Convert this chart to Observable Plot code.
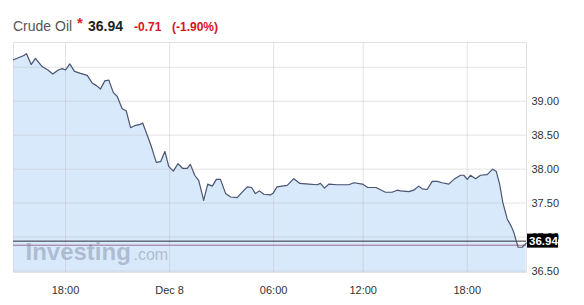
<!DOCTYPE html>
<html>
<head>
<meta charset="utf-8">
<script src="https://cdn.jsdelivr.net/npm/d3@7"></script>
<script src="https://cdn.jsdelivr.net/npm/@observablehq/plot@0.6"></script>
<style>
  body { margin: 0; background: #fff; font-family: Arial, "Liberation Sans", sans-serif; }
  #wrap { position: relative; width: 584px; height: 305px; overflow: hidden; }
  #title span { position: absolute; top: 18px; line-height: 17px; white-space: nowrap; }
  #chart { position: absolute; left: 0; top: 0; }
</style>
</head>
<body>
<div id="wrap">
  <div id="chart"></div>
  <div id="title">
    <span style="left:13px;font-size:14px;color:#555;">Crude Oil</span>
    <span style="left:77px;top:14px;font-size:15px;font-weight:bold;color:#e0202a;">*</span>
    <span style="left:88px;font-size:14px;font-weight:bold;color:#222;">36.94</span>
    <span style="left:134px;top:19px;font-size:12px;font-weight:bold;color:#d8141e;">-0.71</span>
    <span style="left:172px;top:19px;font-size:12px;font-weight:bold;color:#d8141e;">(-1.90%)</span>
  </div>
</div>
<script>
// bar index (10-minute session bars) and price
const bars = [0, 3.4, 4.5, 6.1, 7.6, 9.9, 11.9, 13.6, 15.5, 16.9, 18.0, 19.5, 21.1, 23.2, 25.5, 27.2, 28.7, 30.1, 31.6, 33.0,
  34.5, 35.9, 37.6, 39.0, 40.5, 41.9, 43.9, 44.7, 47.4, 49.4, 50.9, 52.4, 53.7, 55.3, 56.9, 58.6, 60.1, 61.2, 62.7, 64.1,
  65.8, 67.2, 68.8, 70.2, 71.6, 73.4, 75.1, 77.4, 78.9, 80.9, 82.4, 83.7, 85.1, 86.6, 88.9, 89.9, 91.2, 94.7, 97.0, 99.1,
  102.2, 105.1, 106.2, 107.6, 109.1, 112.0, 116.0, 117.8, 120.7, 122.6, 125.4, 128.7, 131.0, 132.8, 133.9, 136.8, 138.5, 140.2, 141.4, 143.1,
  144.9, 146.6, 148.3, 150.6, 152.7, 154.7, 155.8, 157.0, 158.1, 159.9, 161.6, 163.9, 165.8, 167.0, 168.2, 169.3, 170.8, 172.3, 173.1, 173.9,
  174.6, 176.0, 177.4];
const prices = [39.61, 39.67, 39.70, 39.54, 39.63, 39.51, 39.46, 39.40, 39.46, 39.48, 39.46, 39.55, 39.44, 39.41, 39.38, 39.27, 39.23, 39.18, 39.30, 39.31,
  39.13, 39.07, 38.89, 38.86, 38.61, 38.64, 38.66, 38.68, 38.37, 38.10, 38.11, 38.26, 38.04, 37.97, 38.08, 38.01, 38.01, 38.07, 37.91, 37.83,
  37.54, 37.78, 37.75, 37.85, 37.85, 37.64, 37.59, 37.58, 37.65, 37.74, 37.73, 37.64, 37.68, 37.63, 37.62, 37.65, 37.74, 37.76, 37.86, 37.79,
  37.78, 37.77, 37.79, 37.72, 37.78, 37.77, 37.77, 37.80, 37.78, 37.73, 37.73, 37.66, 37.66, 37.69, 37.68, 37.67, 37.69, 37.75, 37.71, 37.70,
  37.82, 37.82, 37.80, 37.78, 37.86, 37.91, 37.91, 37.85, 37.91, 37.86, 37.91, 37.92, 38.00, 37.97, 37.78, 37.51, 37.27, 37.15, 37.07, 36.95,
  36.85, 36.85, 36.91];

const xTicks = [18, 54, 90, 121, 157];
const xTickLabels = ["18:00", "Dec 8", "06:00", "12:00", "18:00"];
const yTicks = [36.5, 37.0, 37.5, 38.0, 38.5, 39.0];
const yGrid = [36.5, 37.0, 37.5, 38.0, 38.5, 39.0, 39.5];
const lastPrice = 36.94;
const lowLine = 36.88;
const xDomain = [0, 177.5];
const yDomain = [36.478, 39.865];

const data = bars.map((b, i) => ({bar: b, price: prices[i]}));
const labelMap = new Map(xTicks.map((t, i) => [t, xTickLabels[i]]));

const chart = Plot.plot({
  width: 584,
  height: 305,
  marginTop: 42,
  marginBottom: 33,
  marginLeft: 13,
  marginRight: 58,
  style: {fontFamily: "Arial, 'Liberation Sans', sans-serif", fontSize: "11px", color: "#333", background: "transparent"},
  x: {domain: xDomain, label: null},
  y: {domain: yDomain, label: null},
  marks: [
    Plot.areaY(data, {x: "bar", y1: yDomain[0], y2: "price", fill: "#d9e9fc", curve: "linear"}),
    Plot.ruleY(yGrid, {stroke: "#b8b8b8", strokeOpacity: 0.4}),
    Plot.ruleX(xTicks, {stroke: "#b8b8b8", strokeOpacity: 0.4}),
    Plot.frame({stroke: "#d0d0d0", strokeOpacity: 0.6}),
    Plot.text(["Investing"], {frameAnchor: "bottom-left", dx: 12, dy: -13, text: d => d, fontSize: 24, fontWeight: "bold", fill: "#76839b", fillOpacity: 0.45, textAnchor: "start", lineAnchor: "bottom"}),
    Plot.text([".com"], {frameAnchor: "bottom-left", dx: 120, dy: -13, text: d => d, fontSize: 16, fill: "#76839b", fillOpacity: 0.45, textAnchor: "start", lineAnchor: "bottom"}),
    Plot.ruleY([lowLine], {stroke: "#9a6c90", strokeWidth: 1}),
    Plot.ruleY([lastPrice], {stroke: "#2a2d3a", strokeWidth: 1}),
    Plot.line(data, {x: "bar", y: "price", stroke: "#4b5470", strokeWidth: 1.2}),
    Plot.axisY(yTicks, {anchor: "right", label: null, tickSize: 0, tickPadding: 5, tickFormat: d => d.toFixed(2), fill: "#333", fontSize: 11}),
    Plot.axisX(xTicks, {anchor: "bottom", label: null, tickSize: 0, tickPadding: 14, tickFormat: d => labelMap.get(d), fill: "#333", fontSize: 11})
  ]
});

document.getElementById("chart").appendChild(chart);

// last price tag, positioned with the chart's own scales
const yy = chart.scale("y").apply(lastPrice);
const xr = chart.scale("x").range[1];
const g = d3.select(chart).append("g");
g.append("rect").attr("x", xr + 1).attr("y", yy - 7).attr("width", 31).attr("height", 14).attr("fill", "#000");
g.append("text").attr("x", xr + 3).attr("y", yy).attr("dy", "0.35em")
  .attr("text-anchor", "start")
  .attr("fill", "#fff").attr("font-size", 11.5).attr("font-weight", "bold")
  .text(lastPrice.toFixed(2));
</script>
</body>
</html>
